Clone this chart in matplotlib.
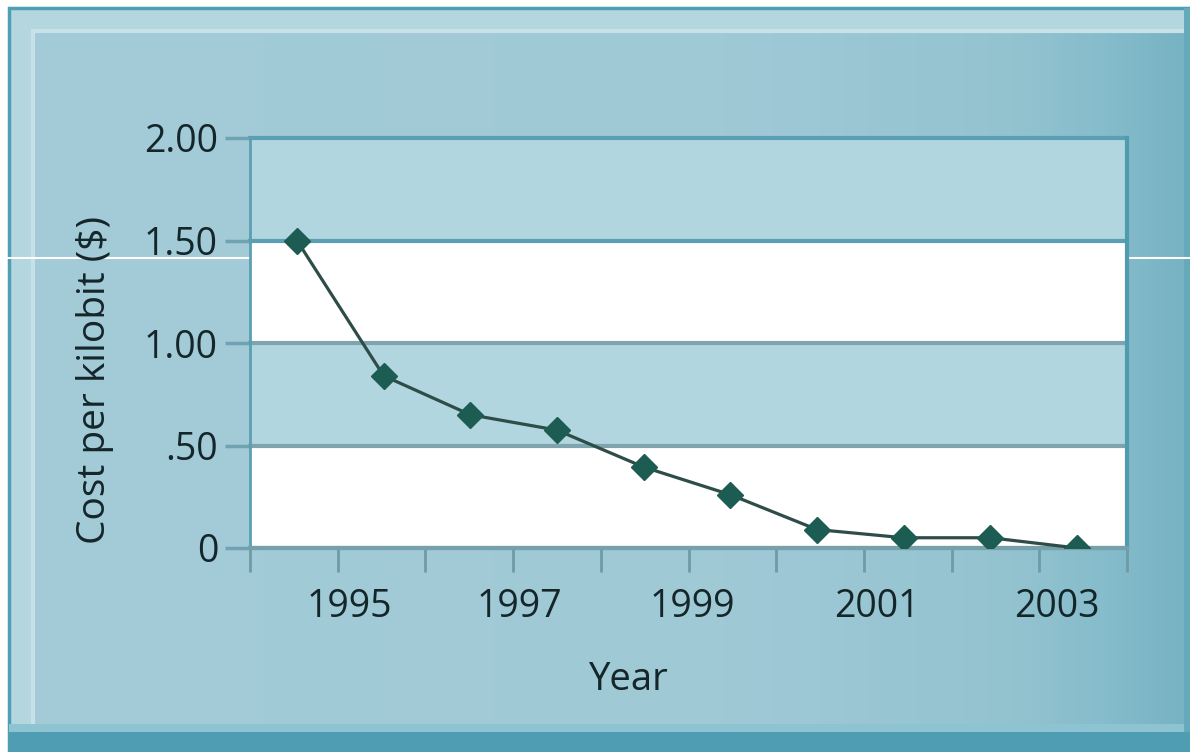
import numpy as np
import matplotlib
matplotlib.use("Agg")
import matplotlib.pyplot as plt
from matplotlib.patches import Rectangle
from matplotlib.colors import to_rgb

plt.rcParams["font.family"] = ["Open Sans", "DejaVu Sans"]

# data
years = [1994, 1995, 1996, 1997, 1998, 1999, 2000, 2001, 2002, 2003]
cost = [1.50, 0.84, 0.65, 0.575, 0.395, 0.26, 0.09, 0.05, 0.05, 0.0]
year_labels = ["1995", "1997", "1999", "2001", "2003"]
year_label_pos = [1994.6, 1996.57, 1998.56, 2000.69, 2002.77]
y_ticks = [0, 0.5, 1.0, 1.5, 2.0]
y_ticklabels = ["0", ".50", "1.00", "1.50", "2.00"]

W, H = 1190, 752
TXT = "#14262a"

fig = plt.figure(figsize=(W / 100, H / 100), dpi=100, facecolor="white")

# ---- background frame, drawn in pixel coords ----
bg = fig.add_axes([0, 0, 1, 1], zorder=-5)
bg.set_xlim(0, W); bg.set_ylim(H, 0); bg.axis("off")
bg.add_patch(Rectangle((9, 8), W - 9, H - 8, facecolor="#b4d6de", edgecolor="#4f9fb3", lw=2.5))
# inner panel with horizontal gradient (lighter left, darker right)
stops = [0, 0.6, 0.85, 0.93, 1.0]
cols = np.array([to_rgb(c) for c in ["#a3cbd8", "#a0c9d6", "#94c3d0", "#86bccb", "#77b3c3"]])
xs = np.linspace(0, 1, 400)
grad = np.stack([np.interp(xs, stops, cols[:, k]) for k in range(3)], axis=-1)[None, :, :]
bg.imshow(grad, extent=(33, 1186, 724, 31), aspect="auto", zorder=1)
bg.plot([33, 1186], [31, 31], color="#c6e1e7", lw=3, zorder=2)
bg.plot([33, 33], [31, 724], color="#c6e1e7", lw=3, zorder=2)
bg.add_patch(Rectangle((9, 724), W - 9, 8, facecolor="#8ec4d1", lw=0, zorder=2))
bg.add_patch(Rectangle((9, 732), W - 9, H - 732, facecolor="#4f9db2", lw=0, zorder=2))
bg.add_patch(Rectangle((1184, 8), 6, 724, facecolor="#66a9ba", lw=0, zorder=2))
bg.plot([0, W], [258, 258], color="white", lw=1.5, zorder=3)

# ---- plot area ----
ax = fig.add_axes([250 / W, (H - 548) / H, 877 / W, 410 / H])
ax.set_facecolor("none")
ax.set_xlim(1993.458, 2003.577)
ax.set_ylim(0, 2.0)

band_cols = ["white", "#b2d6df", "white", "#b2d6df"]
for lo, hi, c in zip(y_ticks[:-1], y_ticks[1:], band_cols):
    ax.axhspan(lo, hi, color=c, lw=0, zorder=0)
line_cols = ["#78a0a9", "#7fa4ad", "#7fa4ad", "#5a9fb3", "#5a9fb3"]
for yv, c in zip(y_ticks, line_cols):
    ax.axhline(yv, color=c, lw=3, zorder=1, clip_on=False)

ax.plot(years, cost, color="#2e4c48", lw=2.3, zorder=3,
        marker="D", markersize=13, markerfacecolor="#1d5c52",
        markeredgecolor="#1d5c52", markeredgewidth=1)

ax.spines["top"].set_visible(False)
ax.spines["left"].set_color("#5a9fb3"); ax.spines["left"].set_linewidth(2)
ax.spines["right"].set_color("#4f9bb0"); ax.spines["right"].set_linewidth(3)
ax.spines["bottom"].set_color("#76a0aa"); ax.spines["bottom"].set_linewidth(3)

ax.set_yticks(y_ticks, y_ticklabels)
ax.tick_params(axis="y", length=18, width=2.5, color="#6fa3b1", pad=5,
               labelsize=27, labelcolor=TXT)

ax.set_xticks(np.linspace(*ax.get_xlim(), 11))
ax.tick_params(axis="x", which="major", length=17, width=2, color="#6d9ba6",
               labelbottom=False)
ax.set_xticks(year_label_pos, year_labels, minor=True)
ax.tick_params(axis="x", which="minor", length=0, pad=28.5, labelsize=27, labelcolor=TXT)

fig.text(629 / W, 1 - 680 / H, "Year", ha="center", va="center", fontsize=27.5, color=TXT)
fig.text(95 / W, 1 - 380 / H, "Cost per kilobit ($)", ha="center", va="center",
         rotation=90, fontsize=28, color=TXT)

fig.savefig("out.png", dpi=100)
